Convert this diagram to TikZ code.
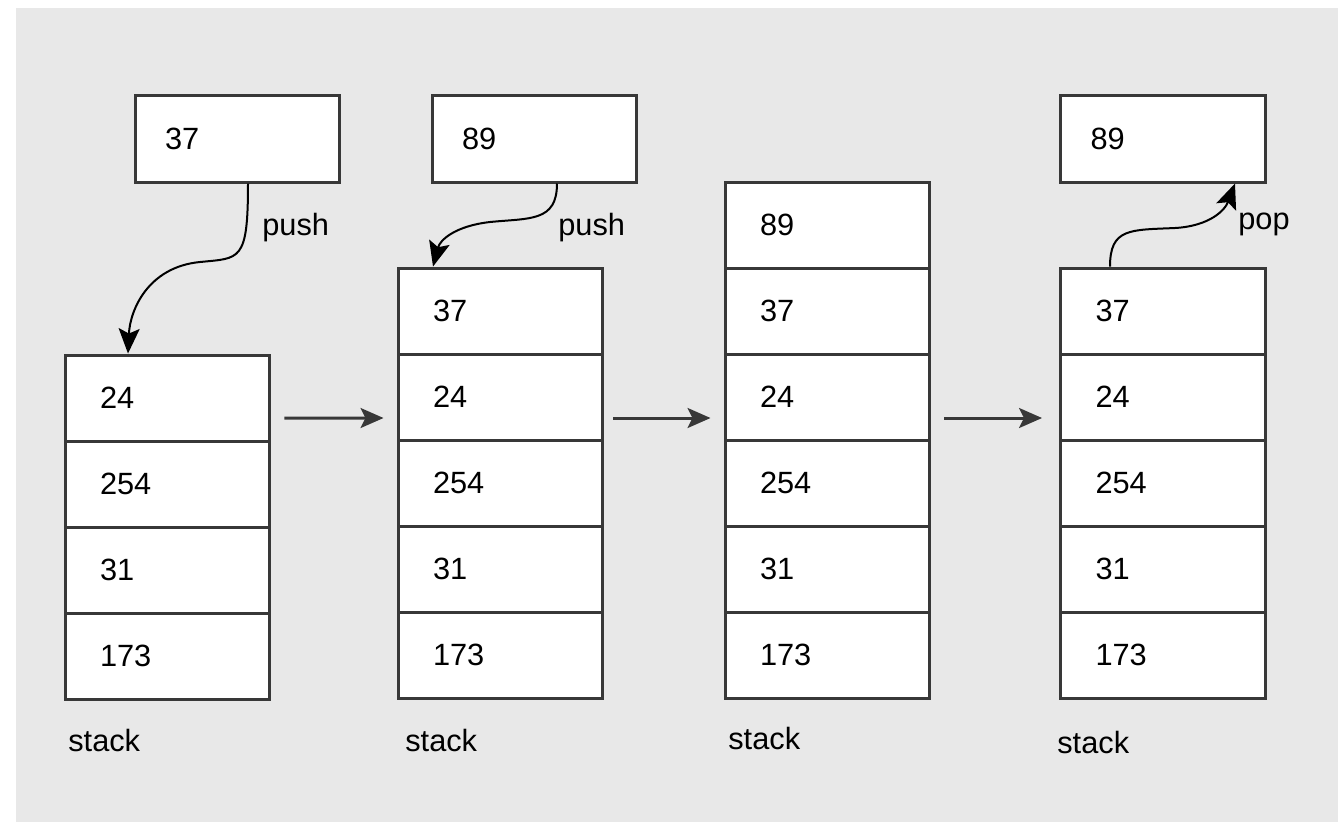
\documentclass[tikz,border=0pt]{standalone}
\usepackage{fontspec}
\setmainfont{Liberation Sans}
\usetikzlibrary{arrows.meta}
\definecolor{panel}{HTML}{E8E8E8}
\definecolor{edge}{HTML}{383838}
\tikzset{cell/.style={draw=edge, fill=white, line width=0.06cm, rectangle,
		minimum width=4.1cm, minimum height=1.72cm, inner ysep=0pt, inner xsep=0.7cm,
		text width=2.7cm, align=left},
	item/.style={cell, minimum height=1.74cm, inner xsep=0.6cm, text width=2.9cm},
	flow/.style={draw=edge, line width=0.06cm, -{Stealth[length=0.46cm, width=0.4cm, inset=0.1cm]}},
	curvy/.style={draw=black, line width=0.04cm, -{Stealth[length=0.5cm, width=0.42cm, inset=0.1cm]}},
	lbl/.style={anchor=west, inner sep=0pt}}

\begin{document}
\begin{tikzpicture}[x=0.02cm, y=-0.02cm]
	% Default action for each node
	\tikzstyle{every node}=[font=\fontsize{17.5}{20}\selectfont];

	\useasboundingbox (0,0) rectangle (1338,823);
	\fill[panel] (16,8) rectangle (1338,822);

	\node[item] (top1) at (237.5,138.5) {37};	\node[item] (top2) at (534.5,138.5) {89};	\node[item] (top4) at (1163,138.5) {89};

													\node[cell] (s3c1) at (827.5,225) {89};
								\node[cell] (s2c1) at (500.5,311) {37};	\node[cell] (s3c2) at (827.5,311) {37};	\node[cell] (s4c1) at (1163,311) {37};
	\node[cell] (s1c1) at (167.5,398) {24};	\node[cell] (s2c2) at (500.5,397) {24};	\node[cell] (s3c3) at (827.5,397) {24};	\node[cell] (s4c2) at (1163,397) {24};
	\node[cell] (s1c2) at (167.5,484) {254};	\node[cell] (s2c3) at (500.5,483) {254};	\node[cell] (s3c4) at (827.5,483) {254};	\node[cell] (s4c3) at (1163,483) {254};
	\node[cell] (s1c3) at (167.5,570) {31};	\node[cell] (s2c4) at (500.5,569) {31};	\node[cell] (s3c5) at (827.5,569) {31};	\node[cell] (s4c4) at (1163,569) {31};
	\node[cell] (s1c4) at (167.5,656) {173};	\node[cell] (s2c5) at (500.5,655) {173};	\node[cell] (s3c6) at (827.5,655) {173};	\node[cell] (s4c5) at (1163,655) {173};

	% Names under the stacks
	\node[lbl] (name1) at (68,740) {stack};
	\node[lbl] (name2) at (405,740) {stack};
	\node[lbl] (name3) at (728,738) {stack};
	\node[lbl] (name4) at (1057,742) {stack};

	% Steps
	\draw[flow] ([shift={(0.26cm,-0.4cm)}]s1c1.east) -- ([shift={(-0.26cm,-0.42cm)}]s2c2.west);
	\draw[flow] ([shift={(0.18cm,-0.42cm)}]s2c2.east) -- ([shift={(-0.26cm,-0.42cm)}]s3c3.west);
	\draw[flow] ([shift={(0.26cm,-0.42cm)}]s3c3.east) -- ([shift={(-0.34cm,-0.42cm)}]s4c2.west);

	% Push and pop
	\draw[curvy] ([xshift=0.21cm]top1.south) .. controls (248,262) and (240,258) .. (200,262)
		.. controls (148,267) and (130,310) .. ([xshift=-0.79cm]s1c1.north);
	\node[lbl] (push1) at (262,228) {push};

	\draw[curvy] ([xshift=0.45cm]top2.south) .. controls (557,222) and (530,218) .. (490,222)
		.. controls (455,226) and (440,240) .. ([xshift=-1.35cm]s2c1.north);
	\node[lbl] (push2) at (558,228) {push};

	\draw[curvy] ([xshift=-1.06cm]s4c1.north) .. controls (1110,228) and (1130,230) .. (1175,228)
		.. controls (1210,226) and (1225,210) .. ([xshift=1.44cm]top4.south);
	\node[lbl] (pop4) at (1238,224) {pop};
\end{tikzpicture}
\end{document}
